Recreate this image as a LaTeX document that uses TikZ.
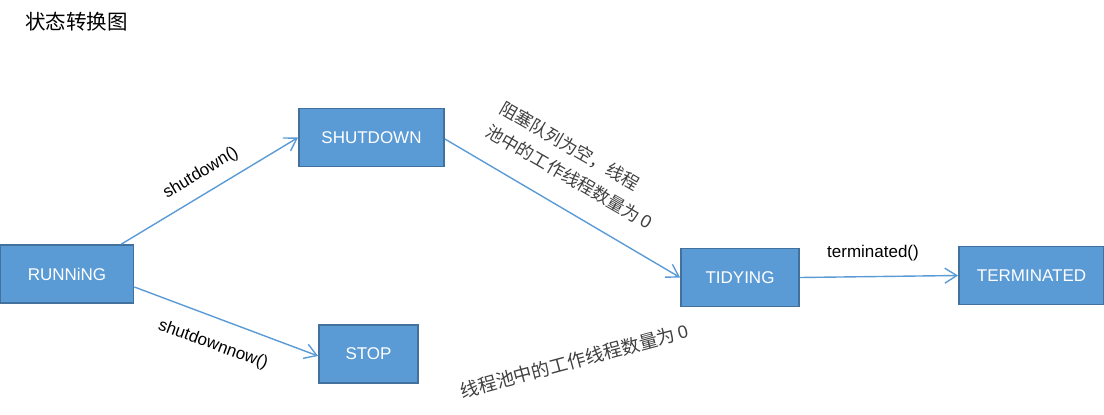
\documentclass[tikz,border=0pt]{standalone}
\usepackage{fontspec}
\setmainfont{Liberation Sans}
\newfontfamily\cjk{Noto Sans CJK SC}
\usetikzlibrary{arrows.meta}
\definecolor{boxfill}{HTML}{5B9BD5}
\definecolor{boxline}{HTML}{41719C}
\definecolor{arrowc}{HTML}{5B9BD5}
\newcommand{\zero}{\rmfamily\fontsize{18bp}{18bp}\selectfont\,0}
\begin{document}
\begin{tikzpicture}[x=1bp,y=-1bp,
  state/.style={draw=boxline,line width=1.8bp,fill=boxfill,text=white,
    font=\fontsize{17bp}{18bp}\selectfont,minimum height=58bp,inner sep=0pt},
  trans/.style={draw=arrowc,line width=1.4bp,-{Straight Barb[length=12bp,width=15bp,line width=1.4bp]}},
  lbl/.style={font=\fontsize{17bp}{18bp}\selectfont,inner sep=0pt},
  cnlbl/.style={font=\cjk\fontsize{17.5bp}{27bp}\selectfont,inner sep=0pt,text=black!75}]
\useasboundingbox (0,0) rectangle (1104,414);
\node[anchor=west,font=\cjk\fontsize{20.5bp}{24bp}\selectfont,inner sep=0pt] (title) at (25,22) {状态转换图};
\node[state,minimum width=133bp] (run) at (67,274) {RUNNiNG};
\node[state,minimum width=145bp] (sd) at (371.5,137.5) {SHUTDOWN};
\node[state,minimum width=99bp] (stop) at (368.5,354) {STOP};
\node[state,minimum width=118bp] (tid) at (740,277.5) {TIDYING};
\node[state,minimum width=145bp] (term) at (1031.5,275.5) {TERMINATED};
\draw[trans] ([xshift=-13bp]run.north east) -- (sd.west);
\draw[trans] ([yshift=-13bp]run.east) -- ([yshift=-2bp]stop.west);
\draw[trans] ([yshift=-1.5bp]sd.east) -- (tid.west);
\draw[trans] (tid.east) -- (term.west);
\node[lbl,rotate=31] (l1) at (201,173) {shutdown()};
\node[lbl,rotate=-20] (l2) at (213,345) {shutdownnow()};
\node[lbl] (l3) at (873,253) {terminated()};
\node[cnlbl,rotate=-30,align=left] (l4) at (576,165) {阻塞队列为空，线程\\池中的工作线程数量为\zero};
\node[cnlbl,font=\cjk\fontsize{18.5bp}{24bp}\selectfont,rotate=15] (l5) at (574,361) {线程池中的工作线程数量为\zero};
\end{tikzpicture}
\end{document}
